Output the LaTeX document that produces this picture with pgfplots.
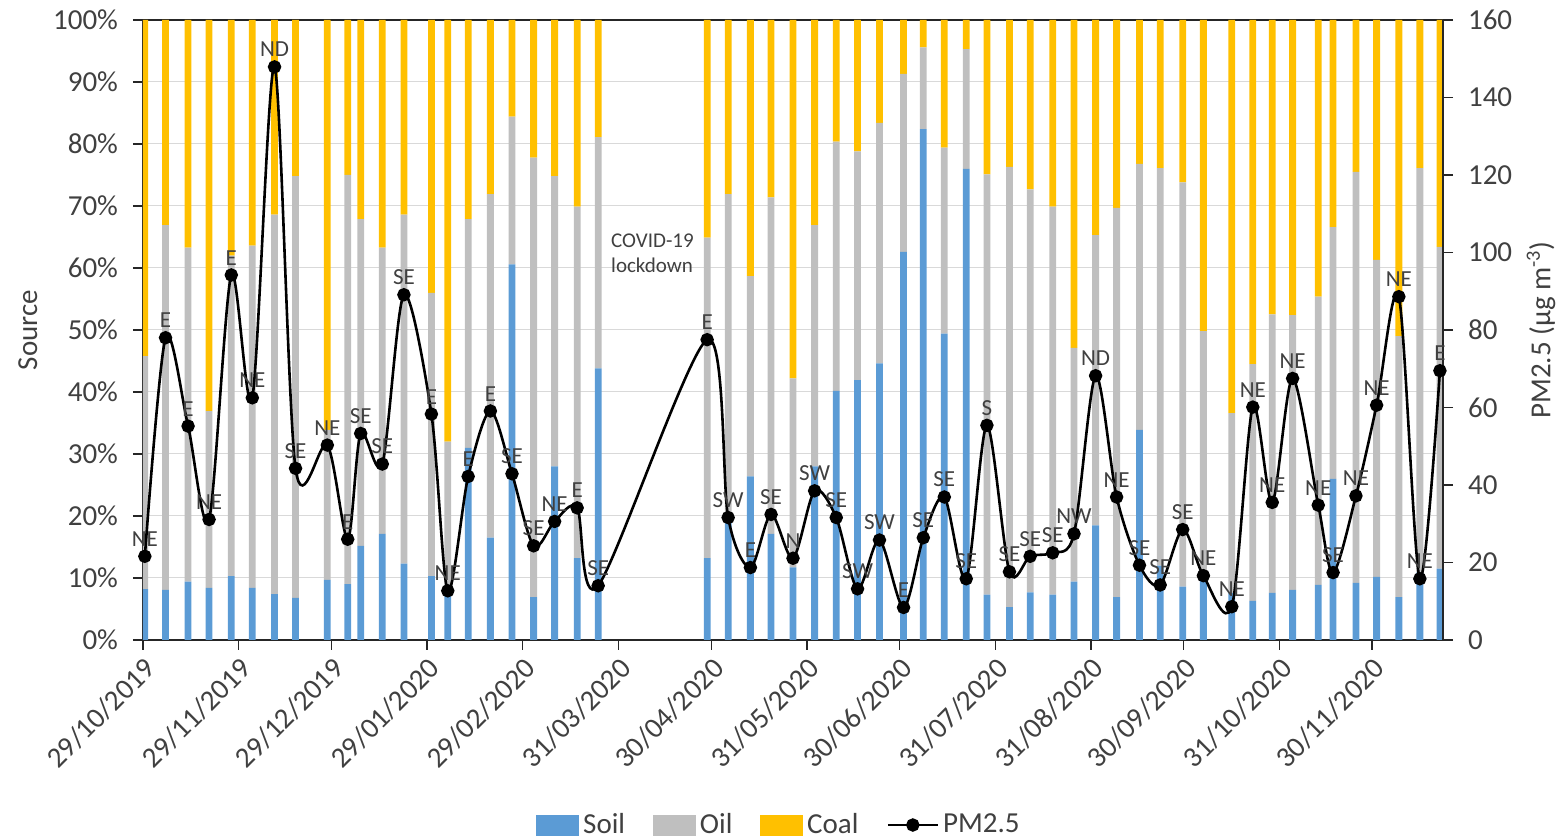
\documentclass[border=0pt]{standalone}
\usepackage{fontspec}
\setmainfont{Carlito}
\usepackage{pgfplots}
\usepackage{pgfplotstable}
\pgfplotsset{compat=1.18}
\definecolor{soilc}{HTML}{5B9BD5}
\definecolor{oilc}{HTML}{BFBFBF}
\definecolor{coalc}{HTML}{FFC000}
\definecolor{txt}{HTML}{404040}

\pgfplotstableread{
day soil oil coal pm dir
0.6 8.2 37.6 54.2 21.6 NE
7.3 8.1 58.8 33.1 78.0 E
14.6 9.4 53.9 36.7 55.2 E
21.4 8.4 28.5 63.1 31.1 NE
28.6 10.3 51.7 38.0 94.2 E
35.4 8.4 55.2 36.4 62.5 NE
42.6 7.4 61.2 31.4 147.9 ND
49.4 6.8 68.0 25.2 44.3 SE
59.7 9.7 24.2 66.1 50.3 NE
66.3 9.0 66.0 25.0 26.0 E
70.5 15.2 52.7 32.1 53.3 SE
77.5 17.1 46.2 36.7 45.4 SE
84.5 12.3 56.3 31.4 89.1 SE
93.4 10.3 45.7 44.0 58.3 E
98.7 8.0 24.0 68.0 12.7 NE
105.3 31.0 36.9 32.1 42.2 E
112.5 16.5 55.4 28.1 59.1 E
119.5 60.6 23.8 15.6 42.9 SE
126.5 6.9 70.9 22.2 24.3 SE
133.3 28.0 46.8 25.2 30.6 NE
140.6 13.2 56.7 30.1 34.1 E
147.4 43.8 37.3 18.9 14.0 SE
182.7 13.2 51.7 35.1 77.5 E
189.5 19.1 52.8 28.1 31.6 SW
196.7 26.4 32.3 41.3 18.7 E
203.4 17.1 54.3 28.6 32.4 SE
210.5 11.7 30.5 57.8 21.1 N
217.5 28.0 38.9 33.1 38.5 SW
224.5 40.2 40.2 19.6 31.6 SE
231.4 41.9 36.9 21.2 13.2 SW
238.5 44.6 38.8 16.6 25.8 SW
246.3 62.6 28.7 8.7 8.4 E
252.7 82.4 13.2 4.4 26.4 SE
259.5 49.4 30.0 20.6 36.9 SE
266.6 76.0 19.3 4.7 15.8 SE
273.3 7.3 67.8 24.9 55.4 S
280.6 5.3 71.0 23.7 17.6 SE
287.3 7.7 65.0 27.3 21.6 SE
294.6 7.3 62.6 30.1 22.5 SE
301.5 9.4 37.7 52.9 27.4 NW
308.5 18.5 46.8 34.7 68.2 ND
315.3 6.9 62.8 30.3 36.9 NE
322.7 33.9 42.9 23.2 19.3 SE
329.4 12.0 64.1 23.9 14.2 SE
336.7 8.6 65.2 26.2 28.5 SE
343.4 9.5 40.3 50.2 16.6 NE
352.6 7.6 29.0 63.4 8.6 NE
359.4 6.3 38.2 55.5 60.1 NE
365.7 7.6 44.9 47.5 35.5 NE
372.3 8.1 44.3 47.6 67.5 NE
380.6 8.9 46.5 44.6 34.8 NE
385.4 26.0 40.6 33.4 17.4 SE
392.8 9.2 66.3 24.5 37.2 NE
399.5 10.2 51.1 38.7 60.6 NE
406.7 6.9 42.1 51.0 88.6 NE
413.5 10.9 65.2 23.9 15.8 NE
420.0 11.5 51.9 36.6 69.5 E
}\data

\newcommand{\tfont}{\fontsize{14.5}{17}\selectfont}

\begin{document}
\begin{tikzpicture}
\useasboundingbox (-71.5pt,-100pt) rectangle (710pt,320pt);
\begin{axis}[
  at={(0pt,0pt)}, anchor=south west,
  scale only axis, width=650pt, height=310pt,
  xmin=0, xmax=421, ymin=0, ymax=100,
  ybar stacked, bar width=2.2,
  xtick={0,31,61,92,123,154,184,215,245,276,307,337,368,398},
  xticklabels={29/10/2019,29/11/2019,29/12/2019,29/01/2020,29/02/2020,31/03/2020,30/04/2020,31/05/2020,30/06/2020,31/07/2020,31/08/2020,30/09/2020,31/10/2020,30/11/2020},
  xtick pos=bottom, ytick pos=left, tick align=outside, major tick length=5pt,
  ytick={0,10,...,100}, yticklabel={\pgfmathprintnumber{\tick}\%},
  /pgf/number format/assume math mode=true,
  ymajorgrids, grid style={draw=black!15, line width=0.5pt},
  axis line style={black!85, line width=0.6pt},
  tick style={black!85, line width=0.6pt},
  ticklabel style={font=\tfont, text=txt},
  xticklabel style={rotate=45, anchor=north east, inner sep=2pt},
  yticklabel style={xshift=-4pt},
  ylabel={Source},
  ylabel style={at={(axis description cs:-0.0885,0.5)}, anchor=center, font=\tfont, text=txt},
]
\addplot[fill=soilc, draw=none] table[x=day,y=soil]{\data};
\addplot[fill=oilc, draw=none] table[x=day,y=oil]{\data};
\addplot[fill=coalc, draw=none] table[x=day,y=coal]{\data};
\node[anchor=north west, align=left, font=\fontsize{10.5}{12.5}\selectfont, text=txt, inner sep=0pt] at (axis cs:151.5,65.5) {COVID-19\\lockdown};
\end{axis}
\begin{axis}[
  at={(0pt,0pt)}, anchor=south west,
  scale only axis, width=650pt, height=310pt,
  xmin=0, xmax=421, ymin=0, ymax=160,
  axis x line=none, axis y line*=right,
  ytick={0,20,...,160},
  tick align=outside, major tick length=5pt,
  /pgf/number format/assume math mode=true,
  axis line style={black!85, line width=0.6pt},
  tick style={black!85, line width=0.6pt},
  ticklabel style={font=\tfont, text=txt},
  yticklabel style={xshift=4pt},
  ylabel={PM2.5 (μg m\textsuperscript{-3})},
  ylabel style={at={(axis description cs:1.0754,0.5)}, anchor=center, font=\tfont, text=txt},
  clip=false,
  legend style={at={(axis description cs:0.49,-0.2984)}, anchor=center, draw=none, fill=none,
    legend columns=4, font=\tfont, text=txt,
    /tikz/every even column/.append style={column sep=12pt}},
]
\addlegendimage{legend image code/.code={\fill[soilc] (0pt,-5pt) rectangle (21pt,5pt);}}
\addlegendentry{Soil}
\addlegendimage{legend image code/.code={\fill[oilc] (0pt,-5pt) rectangle (21pt,5pt);}}
\addlegendentry{Oil}
\addlegendimage{legend image code/.code={\fill[coalc] (0pt,-5pt) rectangle (21pt,5pt);}}
\addlegendentry{Coal}
\addplot[black, line width=1.3pt, smooth, mark=*, mark size=2.7pt, mark options={fill=black},
  nodes near coords, point meta=explicit symbolic,
  every node near coord/.style={font=\fontsize{11.5}{13}\selectfont, text=txt, anchor=south, yshift=1pt},
  legend image code/.code={\draw[black, line width=1.3pt] (0pt,0pt) -- (25pt,0pt); \fill[black] (12.5pt,0pt) circle (2.7pt);}]
  table[x=day,y=pm,meta=dir]{\data};
\addlegendentry{PM2.5}
\end{axis}
\end{tikzpicture}
\end{document}
